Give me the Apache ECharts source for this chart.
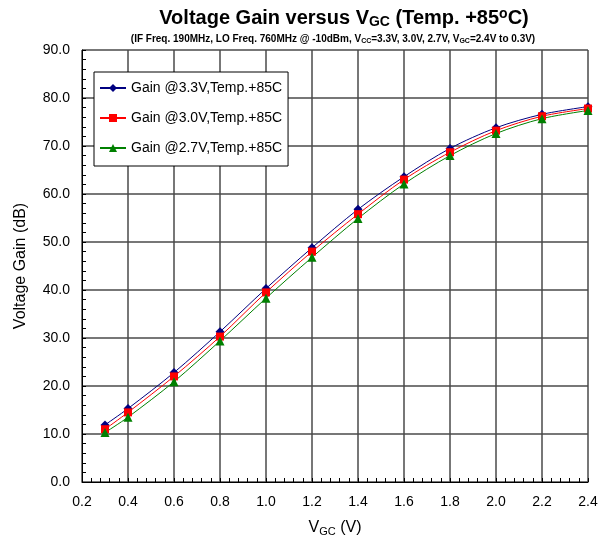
<!DOCTYPE html>
<html>
<head>
<meta charset="utf-8">
<script src="https://cdn.jsdelivr.net/npm/echarts@6/dist/echarts.min.js"></script>
<style>
  html, body { margin: 0; padding: 0; background: #fff; }
  #chart { width: 609px; height: 545px; }
</style>
</head>
<body>
<div id="chart"></div>
<script>
const vgc = [0.3, 0.4, 0.6, 0.8, 1.0, 1.2, 1.4, 1.6, 1.8, 2.0, 2.2, 2.4]
const gain33 = [11.9, 15.3, 22.8, 31.3, 40.3, 48.8, 56.8, 63.6, 69.5, 73.8, 76.6, 78.2]
const gain30 = [11.0, 14.5, 22.0, 30.3, 39.5, 48.0, 55.8, 63.0, 68.7, 73.2, 76.2, 77.8]
const gain27 = [10.3, 13.5, 20.9, 29.4, 38.3, 46.8, 54.9, 62.1, 68.0, 72.6, 75.7, 77.4]
const seriesNames = ['Gain @3.3V,Temp.+85C', 'Gain @3.0V,Temp.+85C', 'Gain @2.7V,Temp.+85C']

const font = 'Liberation Sans, Arial, sans-serif'
const pairs = ys => vgc.map((x, i) => [x, ys[i]])

const chart = echarts.init(document.getElementById('chart'))

function line(name, ys, color, symbol, size) {
    return {
        name: name,
        type: 'line',
        data: pairs(ys),
        smooth: 0.3,
        symbol: symbol,
        symbolSize: size,
        lineStyle: { color: color, width: 1 },
        itemStyle: { color: color },
        emphasis: { disabled: true },
        z: 3,
    }
}

chart.setOption({
    animation: false,
    title: [{
        text: 'Voltage Gain versus V{sub|GC} (Temp. +85{sup|o}C)',
        left: 339,
        top: 2,
        textAlign: 'center',
        textStyle: {
            fontFamily: font,
            fontSize: 20,
            fontWeight: 'bold',
            color: '#000',
            rich: {
                sub: { fontFamily: font, fontSize: 14, fontWeight: 'bold', color: '#000', padding: [8, 0, 0, 0] },
                sup: { fontFamily: font, fontSize: 14, fontWeight: 'bold', color: '#000', padding: [0, 0, 9, 0] },
            },
        },
    }, {
        text: '(IF Freq. 190MHz, LO Freq. 760MHz @ -10dBm, V{sub|CC}=3.3V, 3.0V, 2.7V, V{sub|GC}=2.4V to 0.3V)',
        left: 328,
        top: 29,
        textAlign: 'center',
        textStyle: {
            fontFamily: font,
            fontSize: 10,
            fontWeight: 'bold',
            color: '#000',
            rich: {
                sub: { fontFamily: font, fontSize: 7, fontWeight: 'bold', color: '#000', padding: [4, 0, 0, 0] },
            },
        },
    }],
    legend: {
        left: 94,
        top: 72,
        orient: 'vertical',
        itemGap: 16,
        itemWidth: 26,
        itemHeight: 10,
        padding: [9, 6, 11, 5],
        backgroundColor: '#fff',
        borderColor: '#000',
        borderWidth: 1,
        textStyle: { fontFamily: font, fontSize: 14, color: '#000' },
        data: seriesNames,
    },
    grid: { left: 82, right: 21, top: 50, bottom: 63 },
    xAxis: {
        type: 'value',
        min: 0.2,
        max: 2.4,
        interval: 0.2,
        name: 'V{sub|GC} (V)',
        nameLocation: 'middle',
        nameGap: 37,
        nameTextStyle: {
            fontFamily: font,
            fontSize: 16,
            color: '#000',
            rich: { sub: { fontFamily: font, fontSize: 11, color: '#000', padding: [7, 0, 0, 0] } },
        },
        axisLine: { lineStyle: { color: '#000', width: 1 } },
        axisTick: { inside: true, length: 4, lineStyle: { color: '#000' } },
        minorTick: { show: true, splitNumber: 5, length: 4, lineStyle: { color: '#000' } },
        axisLabel: {
            fontFamily: font, fontSize: 14, color: '#000', margin: 13,
            formatter: v => v.toFixed(1),
        },
        splitLine: { show: true, lineStyle: { color: '#4a4a4a', width: 1.5 } },
    },
    yAxis: {
        type: 'value',
        min: 0,
        max: 90,
        interval: 10,
        name: 'Voltage Gain (dB)',
        nameLocation: 'middle',
        nameGap: 53,
        nameTextStyle: { fontFamily: font, fontSize: 16, color: '#000' },
        axisLine: { show: true, lineStyle: { color: '#000', width: 1 } },
        axisTick: { show: true, inside: true, length: 4, lineStyle: { color: '#000' } },
        minorTick: { show: true, splitNumber: 5, length: 4, lineStyle: { color: '#000' } },
        axisLabel: {
            fontFamily: font, fontSize: 14, color: '#000', margin: 12,
            formatter: v => v.toFixed(1),
        },
        splitLine: { show: true, lineStyle: { color: '#4a4a4a', width: 1.5 } },
    },
    series: [
        line(seriesNames[0], gain33, '#000080', 'diamond', 9),
        line(seriesNames[1], gain30, '#ff0000', 'rect', 8),
        line(seriesNames[2], gain27, '#008000', 'triangle', 9),
    ],
})
</script>
</body>
</html>
